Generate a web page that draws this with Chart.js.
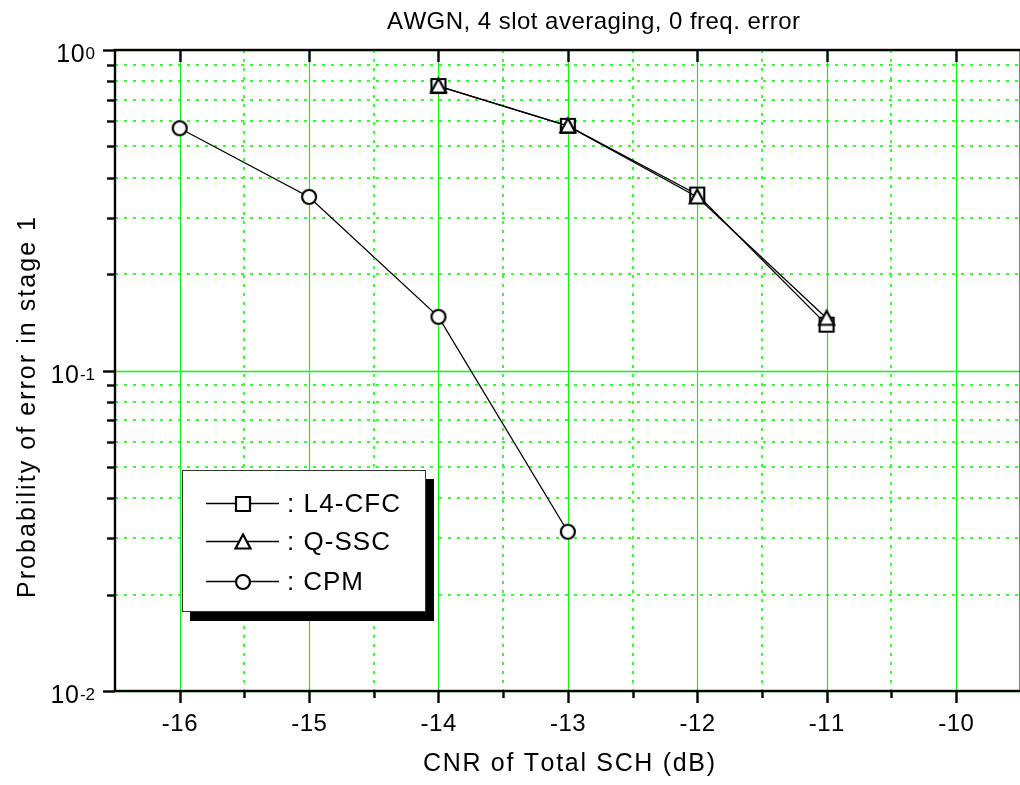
<!DOCTYPE html>
<html><head><meta charset="utf-8">
<script src="https://cdn.jsdelivr.net/npm/chart.js@4/dist/chart.umd.min.js"></script>
<style>
html,body{margin:0;padding:0;background:#fff;overflow:hidden;}
#wrap{position:relative;width:1020px;height:785px;overflow:hidden;background:#fff;}
#c{position:absolute;left:0;top:0;}
</style></head><body>
<div id="wrap"><canvas id="c" width="1030" height="785"></canvas></div>
<script>
const titleText = 'AWGN, 4 slot averaging, 0 freq. error';
const xTitle = 'CNR of Total SCH (dB)';
const yTitle = 'Probability of error in stage 1';
const seriesNames = ['L4-CFC', 'Q-SSC', 'CPM'];
const xL4 = [-14, -13, -12, -11];
const yL4 = [0.772, 0.58, 0.354, 0.139];
const xQ = [-14, -13, -12, -11];
const yQ = [0.772, 0.58, 0.348, 0.1455];
const xCPM = [-16, -15, -14, -13];
const yCPM = [0.570, 0.348, 0.147, 0.0314];
const xMajorTicks = [-16, -15, -14, -13, -12, -11, -10];
const xTickLabels = ['-16', '-15', '-14', '-13', '-12', '-11', '-10'];
const xMinorTicks = [-15.5, -14.5, -13.5, -12.5, -11.5, -10.5];
const yMajorTicks = [1, 0.1, 0.01];
const yTickExp = ['0', '-1', '-2'];
const yMinorTicks = [0.02, 0.03, 0.04, 0.05, 0.06, 0.07, 0.08, 0.09, 0.2, 0.3, 0.4, 0.5, 0.6, 0.7, 0.8, 0.9];

const FONT = '"Liberation Sans", Arial, sans-serif';

function makeMarker(kind) {
  const c = document.createElement('canvas');
  c.width = 20; c.height = 20;
  const g = c.getContext('2d');
  g.fillStyle = '#fff';
  g.strokeStyle = '#000';
  g.lineWidth = 2.2;
  g.beginPath();
  if (kind === 'square') {
    g.rect(3, 3, 14, 14);
  } else if (kind === 'triangle') {
    g.moveTo(10, 2.5);
    g.lineTo(17.5, 16.5);
    g.lineTo(2.5, 16.5);
    g.closePath();
  } else {
    g.arc(10, 10, 7, 0, Math.PI * 2);
  }
  g.fill();
  g.stroke();
  return c;
}
const markers = [makeMarker('square'), makeMarker('triangle'), makeMarker('circle')];

function toPts(xs, ys) { return xs.map((x, i) => ({x: x, y: ys[i]})); }

function drawSpaced(ctx, text, x, y, spacing) {
  let cx = x;
  for (const ch of text) {
    ctx.fillText(ch, cx, y);
    cx += ctx.measureText(ch).width + spacing;
  }
  return cx - spacing - x;
}
function spacedWidth(ctx, text, spacing) {
  let w = 0;
  for (const ch of text) w += ctx.measureText(ch).width + spacing;
  return w - spacing;
}
function fitSpacing(ctx, text, target) {
  const w0 = spacedWidth(ctx, text, 0);
  return (target - w0) / (text.length - 1);
}

const decor = {
  id: 'decor',
  beforeDatasetsDraw(chart) {
    const ctx = chart.ctx, a = chart.chartArea;
    const xs = chart.scales.x, ys = chart.scales.y;
    ctx.save();
    ctx.strokeStyle = 'rgb(60,250,60)';
    ctx.lineWidth = 2;
    ctx.setLineDash([3, 6]);
    xMinorTicks.forEach(v => {
      const px = Math.round(xs.getPixelForValue(v));
      ctx.beginPath(); ctx.moveTo(px, a.top); ctx.lineTo(px, a.bottom); ctx.stroke();
    });
    yMinorTicks.forEach(v => {
      const py = Math.round(ys.getPixelForValue(v));
      ctx.beginPath(); ctx.moveTo(a.left, py); ctx.lineTo(a.right, py); ctx.stroke();
    });
    ctx.setLineDash([]);
    ctx.strokeStyle = 'rgb(20,240,20)';
    ctx.lineWidth = 1.2;
    xMajorTicks.forEach(v => {
      const px = Math.round(xs.getPixelForValue(v)) + 0.5;
      ctx.beginPath(); ctx.moveTo(px, a.top); ctx.lineTo(px, a.bottom); ctx.stroke();
    });
    ctx.lineWidth = 1.6;
    yMajorTicks.forEach(v => {
      const py = Math.round(ys.getPixelForValue(v)) + 0.5;
      ctx.beginPath(); ctx.moveTo(a.left, py); ctx.lineTo(a.right, py); ctx.stroke();
    });
    ctx.restore();
  },
  afterDatasetsDraw(chart) {
    const ctx = chart.ctx, a = chart.chartArea;
    const xs = chart.scales.x, ys = chart.scales.y;
    ctx.save();
    ctx.strokeStyle = '#000';
    ctx.lineWidth = 2.4;
    ctx.strokeRect(a.left, a.top, a.right - a.left, a.bottom - a.top);
    xMajorTicks.forEach(v => {
      const px = Math.round(xs.getPixelForValue(v)) + 0.5;
      ctx.beginPath(); ctx.moveTo(px, a.bottom); ctx.lineTo(px, a.bottom + 12); ctx.stroke();
      ctx.beginPath(); ctx.moveTo(px, a.top); ctx.lineTo(px, a.top + 12); ctx.stroke();
    });
    xMinorTicks.forEach(v => {
      const px = Math.round(xs.getPixelForValue(v)) + 0.5;
      ctx.beginPath(); ctx.moveTo(px, a.bottom); ctx.lineTo(px, a.bottom + 7); ctx.stroke();
    });
    yMajorTicks.forEach(v => {
      const py = Math.round(ys.getPixelForValue(v)) + 0.5;
      ctx.beginPath(); ctx.moveTo(a.left, py); ctx.lineTo(a.left - 12, py); ctx.stroke();
    });
    yMinorTicks.forEach(v => {
      const py = Math.round(ys.getPixelForValue(v)) + 0.5;
      ctx.beginPath(); ctx.moveTo(a.left, py); ctx.lineTo(a.left - 8, py); ctx.stroke();
    });
    ctx.fillStyle = '#000';
    ctx.textBaseline = 'alphabetic';
    ctx.textAlign = 'left';
    ctx.font = '24px ' + FONT;
    xMajorTicks.forEach((v, i) => {
      const px = xs.getPixelForValue(v);
      const t = xTickLabels[i];
      const w = spacedWidth(ctx, t, 0.5);
      drawSpaced(ctx, t, px - w / 2, a.bottom + 40, 0.5);
    });
    yMajorTicks.forEach((v, i) => {
      const py = ys.getPixelForValue(v);
      ctx.font = '17px ' + FONT;
      const ws = spacedWidth(ctx, yTickExp[i], 0);
      ctx.font = '25px ' + FONT;
      const wb = spacedWidth(ctx, '10', 0.5);
      const right = 95;
      drawSpaced(ctx, '10', right - ws - wb - 1, py + 12, 0.5);
      ctx.font = '17px ' + FONT;
      drawSpaced(ctx, yTickExp[i], right - ws, py + 9, 0);
    });
    ctx.font = '24px ' + FONT;
    drawSpaced(ctx, titleText, 387, 29, fitSpacing(ctx, titleText, 413));
    ctx.font = '25px ' + FONT;
    drawSpaced(ctx, xTitle, 423, 771, fitSpacing(ctx, xTitle, 292));
    ctx.save();
    ctx.translate(35, 598);
    ctx.rotate(-Math.PI / 2);
    ctx.font = '25px ' + FONT;
    drawSpaced(ctx, yTitle, 0, 0, fitSpacing(ctx, yTitle, 381));
    ctx.restore();
    // legend
    ctx.fillStyle = '#000';
    ctx.fillRect(190, 479, 244, 142);
    ctx.fillStyle = '#fff';
    ctx.fillRect(182, 470, 244, 142);
    ctx.strokeStyle = '#333';
    ctx.lineWidth = 1;
    ctx.strokeRect(182.5, 470.5, 243, 141);
    const rows = [503, 541, 581];
    const widths = [113, 103, 76];
    rows.forEach((ry, i) => {
      ctx.strokeStyle = '#000';
      ctx.lineWidth = 1.3;
      ctx.beginPath(); ctx.moveTo(206, ry + 0.5); ctx.lineTo(279, ry + 0.5); ctx.stroke();
      ctx.drawImage(markers[i], 243 - 10, ry - 10 + 1);
      ctx.fillStyle = '#000';
      ctx.font = '26px ' + FONT;
      const t = ': ' + seriesNames[i];
      drawSpaced(ctx, t, 287, ry + 9, fitSpacing(ctx, t, widths[i]));
    });
    ctx.restore();
  }
};

new Chart(document.getElementById('c'), {
  type: 'line',
  data: {
    datasets: [
      {label: seriesNames[0], data: toPts(xL4, yL4), order: 1, pointStyle: markers[0]},
      {label: seriesNames[1], data: toPts(xQ, yQ), order: 0, pointStyle: markers[1]},
      {label: seriesNames[2], data: toPts(xCPM, yCPM), order: 2, pointStyle: markers[2]}
    ].map(d => Object.assign({
      borderColor: '#000', borderWidth: 1.3, backgroundColor: '#fff',
      pointRadius: 8, pointHoverRadius: 8, tension: 0, fill: false
    }, d))
  },
  options: {
    responsive: false,
    animation: false,
    devicePixelRatio: 1,
    layout: {padding: {left: 115, right: 4, top: 50, bottom: 94}},
    plugins: {legend: {display: false}, title: {display: false}, tooltip: {enabled: false}},
    events: [],
    scales: {
      x: {type: 'linear', min: -16.5, max: -9.5, display: false},
      y: {type: 'logarithmic', min: 0.01, max: 1, display: false}
    }
  },
  plugins: [decor]
});
</script>
</body></html>
